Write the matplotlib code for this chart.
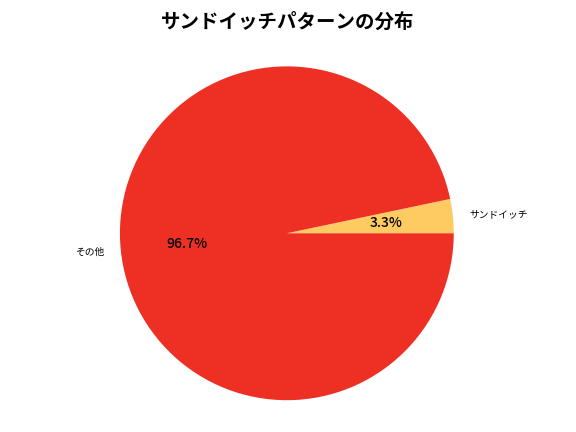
import matplotlib
matplotlib.use('Agg')
import matplotlib.pyplot as plt

plt.rcParams['font.family'] = ['Noto Sans CJK JP', 'DejaVu Sans']

labels = ['サンドイッチ', 'その他']
sizes = [3.3, 96.7]
colors = ['#fecb63', '#ee3024']

fig = plt.figure(figsize=(5.76, 4.32), dpi=100)
# pie placed so that centre/radius match the reference
ax = fig.add_axes([0.179, 0.035, 0.638, 0.85])
wedges, texts, autotexts = ax.pie(sizes, labels=labels, colors=colors,
                                  autopct='%1.1f%%', startangle=0,
                                  textprops={'fontsize': 7})
for t in autotexts:
    t.set_fontsize(10)
    t.set_fontweight('medium')
ax.set_xlim(-1.1, 1.1)
ax.set_ylim(-1.1, 1.1)
ax.set_aspect('equal', adjustable='box')
fig.suptitle('サンドイッチパターンの分布', fontsize=14, fontweight='bold', y=0.97, va='top')
fig.savefig('out.png', dpi=100)
